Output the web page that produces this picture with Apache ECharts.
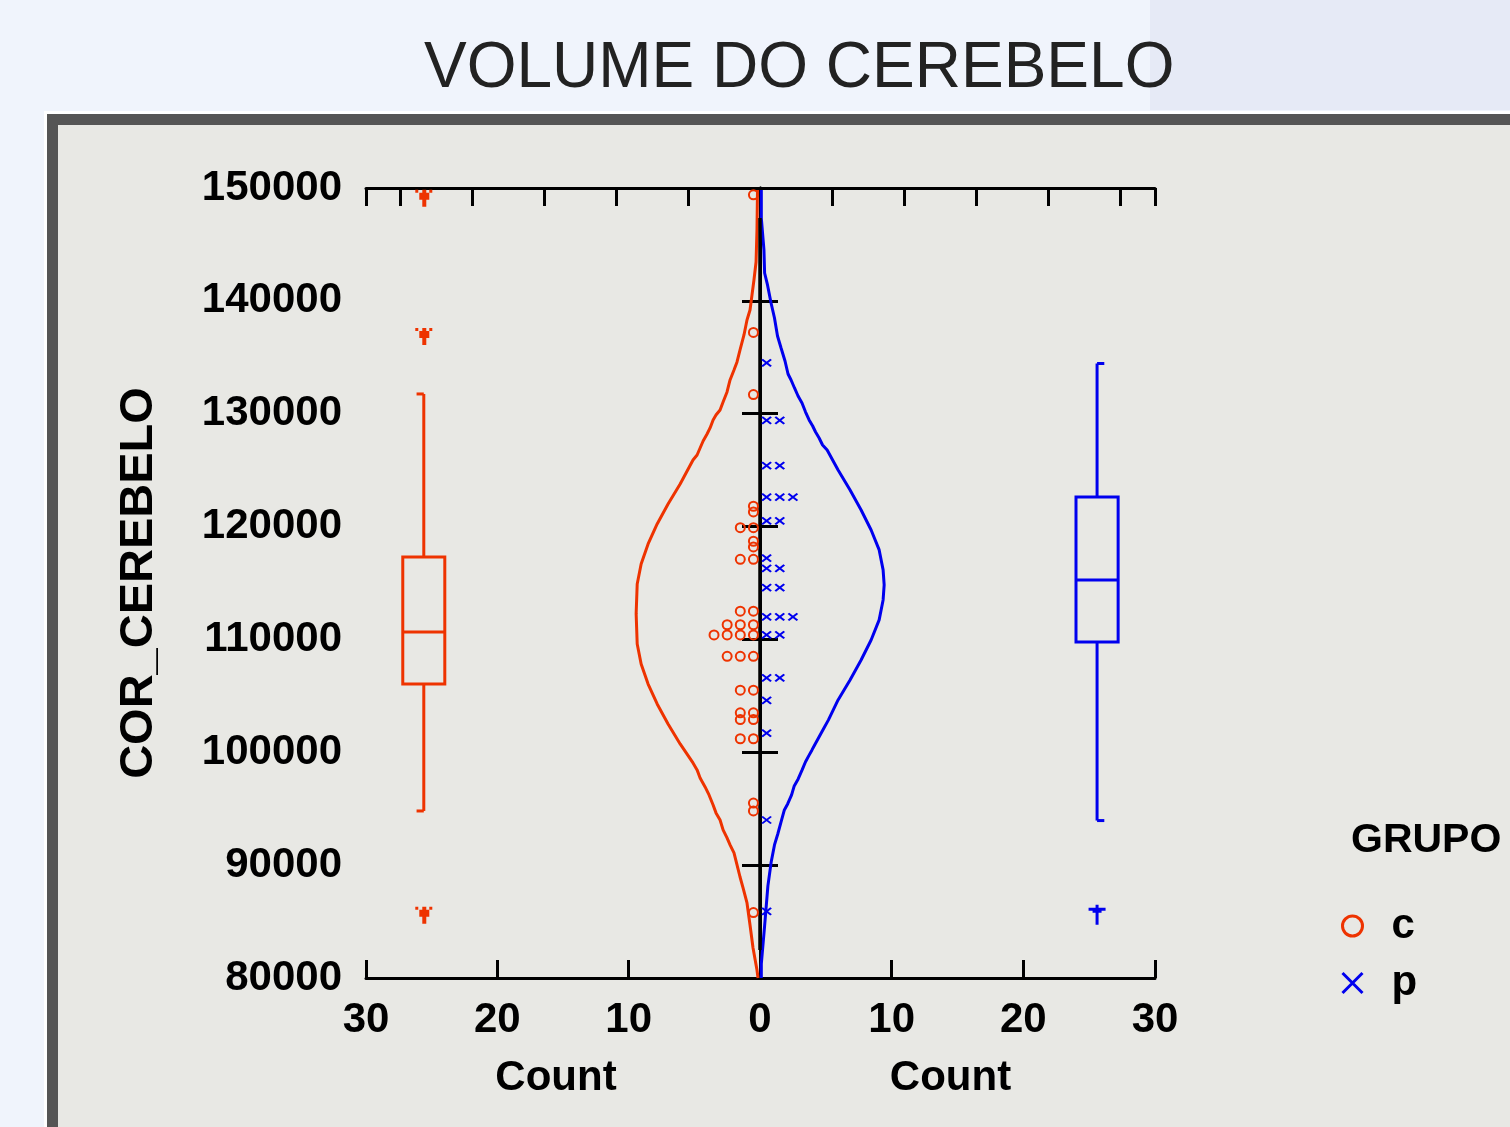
<!DOCTYPE html>
<html>
<head>
<meta charset="utf-8">
<script src="https://cdn.jsdelivr.net/npm/echarts@6/dist/echarts.min.js"></script>
<style>
html,body{margin:0;padding:0;background:#f0f4fc;}
#chart{width:1510px;height:1127px;}
</style>
</head>
<body>
<div id="chart"></div>
<script>
// ---------------- data ----------------
const yTicks = [80000, 90000, 100000, 110000, 120000, 130000, 140000, 150000];
const countTicks = [0, 10, 20, 30];
const groups = ['c', 'p'];

// individual observations (dot plot), group c
const cDots = [149400, 137200, 131700, 121800, 121300, 119900, 119900, 118700, 118200,
  117100, 117100, 112500, 112500, 111300, 111300, 111300, 110400, 110400, 110400, 110400,
  108500, 108500, 108500, 105500, 105500, 103500, 103500, 102900, 102900, 101200, 101200,
  95500, 94800, 85800];
// individual observations (dot plot), group p
const pDots = [134500, 129400, 129400, 125400, 125400, 122600, 122600, 122600, 120500, 120500,
  117200, 116300, 116300, 114600, 114600, 112000, 112000, 112000, 110400, 110400,
  106600, 106600, 104600, 101700, 94000, 85900];

// density curves: values and counts
const cCurveValue = [149820, 146280, 143440, 141850, 140520, 139190, 138300, 136980, 135650, 134590,
  133870, 132990, 131930, 131040, 130330, 129890, 129450, 128740, 128200, 127580, 126960, 126340,
  125900, 123770, 122000, 120230, 118460, 116690, 114910, 112260, 109600, 107830, 106050, 104280,
  102510, 100740, 99060, 98440, 97730, 96930, 96220, 95330, 94630, 94000, 93120, 92410, 91790,
  91080, 90020, 88950, 87980, 86650, 84700, 82660, 80710, 80000];
const cCurveCount = [0.19, 0.23, 0.30, 0.46, 0.61, 0.76, 0.99, 1.22, 1.52, 1.75,
  1.98, 2.28, 2.51, 2.81, 3.04, 3.35, 3.57, 3.80, 4.03, 4.33, 4.56, 4.79,
  5.10, 6.08, 7.00, 7.83, 8.52, 9.05, 9.35, 9.43, 9.35, 9.05, 8.52, 7.83,
  7.00, 6.08, 5.10, 4.79, 4.56, 4.18, 3.88, 3.57, 3.35, 3.04, 2.81, 2.51, 2.28,
  1.98, 1.75, 1.52, 1.29, 0.99, 0.76, 0.53, 0.23, 0.15];

const pCurveValue = [149820, 147340, 144510, 142470, 141410, 139810, 138480, 136890, 135820, 134670,
  133520, 132990, 132280, 131570, 130950, 130150, 129450, 128910, 128380, 127850, 127230, 126790,
  125020, 123240, 121470, 119700, 117930, 116160, 114830, 113500, 111730, 109950, 108180, 106410,
  104640, 102870, 102240, 101710, 101180, 100650, 100210, 99680, 99140, 98440, 97640, 97020,
  96220, 95420, 94890, 93830, 92760, 91790, 90280, 88160, 84610, 81250, 80000];
const pCurveCount = [0.10, 0.10, 0.30, 0.35, 0.57, 0.84, 1.10, 1.33, 1.60, 1.90,
  2.13, 2.36, 2.62, 2.89, 3.19, 3.46, 3.73, 4.00, 4.22, 4.49, 4.75, 5.10,
  5.93, 6.84, 7.68, 8.44, 9.05, 9.35, 9.43, 9.35, 9.05, 8.44, 7.68, 6.84,
  5.93, 5.20, 4.90, 4.65, 4.40, 4.15, 3.95, 3.70, 3.45, 3.20, 2.90, 2.60,
  2.40, 2.10, 1.85, 1.60, 1.35, 1.10, 0.85, 0.60, 0.35, 0.10, 0.10];

// box plots: [lower whisker, Q1, median, Q3, upper whisker]
const cBox = [94800, 106050, 110660, 117310, 131750];
const pBox = [93950, 109780, 115270, 122620, 134450];
const cOutliers = [149100, 136850, 85550];
const pOutliers = [85600];

// extent of the central zero line
const centerLine = [147340, 82490];

// ---------------- styling ----------------
const RED = '#ee3300';
const BLUE = '#0000ee';
const FONT = "'Liberation Sans', Arial, sans-serif";
const BOX_POS = 25.6;     // count position of box plots
const BOX_HALF = 1.6;     // half width of box (count units)
const CAP = 0.55;         // whisker cap length (count units)
const XPATH = 'path://M0,0L10,10M10,0L0,10';
const TRIDENT = 'path://M0,0H3V3H0Z M14,0H17V3H14Z M7,0H11V3H7Z M4,3H14V10H11V17H7V10H4Z';
const CROSS = 'path://M7,0H10V3H17V6H13V8H10V20H7V8H4V6H0V3H7Z';

function stackDots(values) {
  const seen = {};
  return values.map(v => {
    seen[v] = (seen[v] || 0) + 1;
    return [seen[v] - 0.5, v];
  });
}
function curve(counts, values) {
  return values.map((v, i) => [counts[i], v]);
}

function boxRenderer(color) {
  return function (params, api) {
    const pos = api.value(0);
    const lo = api.value(1), q1 = api.value(2), med = api.value(3), q3 = api.value(4), hi = api.value(5);
    const a = api.coord([pos - BOX_HALF, q3]);
    const b = api.coord([pos + BOX_HALF, q1]);
    const x0 = Math.min(a[0], b[0]), x1 = Math.max(a[0], b[0]);
    const yq3 = a[1], yq1 = b[1];
    const cx = api.coord([pos, med])[0];
    const ym = api.coord([pos, med])[1];
    const yhi = api.coord([pos, hi])[1];
    const ylo = api.coord([pos, lo])[1];
    const capX = api.coord([pos + CAP, hi])[0];
    const st = { stroke: color, lineWidth: 3, fill: null };
    return {
      type: 'group',
      children: [
        { type: 'rect', shape: { x: x0, y: yq3, width: x1 - x0, height: yq1 - yq3 }, style: st },
        { type: 'line', shape: { x1: x0, y1: ym, x2: x1, y2: ym }, style: st },
        { type: 'line', shape: { x1: cx, y1: yq3, x2: cx, y2: yhi }, style: st },
        { type: 'line', shape: { x1: cx, y1: yq1, x2: cx, y2: ylo }, style: st },
        { type: 'line', shape: { x1: cx, y1: yhi, x2: capX, y2: yhi }, style: st },
        { type: 'line', shape: { x1: cx, y1: ylo, x2: capX, y2: ylo }, style: st }
      ]
    };
  };
}

const chart = echarts.init(document.getElementById('chart'), null, { renderer: 'canvas' });

const tickStyle = { show: true, inside: true, length: 18, lineStyle: { color: '#000', width: 3 } };
const labelBold = { fontFamily: FONT, fontWeight: 'bold', fontSize: 42, color: '#000' };

function countAxis(gridIndex, inverse, pos, isTop) {
  const ax = {
    type: 'value', gridIndex: gridIndex, position: pos, inverse: inverse,
    min: 0, max: 30,
    axisLine: { show: true, lineStyle: { color: '#000', width: 3 } },
    axisTick: tickStyle, splitLine: { show: false }
  };
  if (isTop) {
    ax.interval = 5.475;
    ax.axisLabel = { show: false };
  } else {
    ax.interval = 10;
    ax.axisLabel = Object.assign({ margin: 21, showMinLabel: !inverse ? false : true,
      formatter: v => String(Math.abs(v)) }, labelBold);
    ax.name = 'Count';
    ax.nameLocation = 'middle';
    ax.nameGap = 79;
    ax.nameTextStyle = Object.assign({}, labelBold, { padding: [0, 14, 0, 0] });
  }
  return ax;
}
function valueAxis(gridIndex, pos, opts) {
  return Object.assign({
    type: 'value', gridIndex: gridIndex, position: pos,
    min: yTicks[0], max: yTicks[yTicks.length - 1], interval: yTicks[1] - yTicks[0],
    axisLine: { show: true, lineStyle: { color: '#000', width: 3 } },
    axisTick: tickStyle, splitLine: { show: false },
    axisLabel: { show: false }
  }, opts || {});
}

const option = {
  animation: false,
  backgroundColor: '#f0f4fc',
  graphic: {
    z: -10,
    elements: [
      { type: 'rect', silent: true, shape: { x: 1150, y: 0, width: 360, height: 110 }, style: { fill: '#e6eaf6' } },
      { type: 'rect', silent: true, shape: { x: 44, y: 111, width: 1466, height: 1016 }, style: { fill: '#ffffff' } },
      { type: 'rect', silent: true, shape: { x: 47, y: 114, width: 1463, height: 1013 }, style: { fill: '#555555' } },
      { type: 'rect', silent: true, shape: { x: 58, y: 125, width: 1452, height: 1002 }, style: { fill: '#e8e8e4' } }
    ]
  },
  title: [
    { text: 'VOLUME DO CEREBELO', left: 419, top: 32,
      textStyle: { fontFamily: FONT, fontWeight: 'normal', fontSize: 64, color: '#222', lineHeight: 64 } },
    { text: 'GRUPO', left: 1346, top: 815,
      textStyle: { fontFamily: FONT, fontWeight: 'bold', fontSize: 41, color: '#000', lineHeight: 42 } }
  ],
  legend: {
    orient: 'vertical', left: 1336, top: 900,
    itemWidth: 24, itemHeight: 20, itemGap: 15,
    textStyle: { fontFamily: FONT, fontWeight: 'bold', fontSize: 42, color: '#000', lineHeight: 42, padding: [0, 0, 0, 22] },
    data: [
      { name: groups[0], icon: 'circle', itemStyle: { color: 'transparent', borderColor: RED, borderWidth: 3 } },
      { name: groups[1], icon: XPATH, itemStyle: { color: 'transparent', borderColor: BLUE, borderWidth: 3 } }
    ]
  },
  grid: [
    { left: 366, top: 188, width: 394, height: 790 },
    { left: 760, top: 188, width: 395, height: 790 }
  ],
  xAxis: [
    countAxis(0, true, 'bottom', false),
    countAxis(1, false, 'bottom', false),
    countAxis(0, true, 'top', true),
    countAxis(1, false, 'top', true)
  ],
  yAxis: [
    valueAxis(0, 'left', {
      axisLabel: Object.assign({ show: true, margin: 24, formatter: v => String(v) }, labelBold),
      name: 'COR_CEREBELO', nameLocation: 'middle', nameGap: 203, nameRotate: 90,
      nameTextStyle: Object.assign({}, labelBold, { fontSize: 47 })
    }),
    valueAxis(0, 'right', { axisLine: { show: false } }),
    valueAxis(1, 'left', { axisLine: { show: false } }),
    valueAxis(1, 'right', {})
  ],
  series: [
    { type: 'line', name: 'cCurve', xAxisIndex: 0, yAxisIndex: 0, data: curve(cCurveCount, cCurveValue),
      showSymbol: false, symbol: 'none', lineStyle: { color: RED, width: 3 }, clip: false, z: 3 },
    { type: 'line', name: 'pCurve', xAxisIndex: 1, yAxisIndex: 2, data: curve(pCurveCount, pCurveValue),
      showSymbol: false, symbol: 'none', lineStyle: { color: BLUE, width: 3 }, clip: false, z: 3 },
    { type: 'line', name: 'zero', xAxisIndex: 0, yAxisIndex: 0, data: centerLine.map(v => [0, v]),
      showSymbol: false, symbol: 'none', lineStyle: { color: '#000', width: 3.5 }, clip: false, z: 4 },
    { type: 'scatter', name: groups[0], xAxisIndex: 0, yAxisIndex: 0, data: stackDots(cDots),
      symbol: 'circle', symbolSize: 9, itemStyle: { color: 'transparent', borderColor: RED, borderWidth: 2, opacity: 1 }, z: 5 },
    { type: 'scatter', name: groups[1], xAxisIndex: 1, yAxisIndex: 2, data: stackDots(pDots),
      symbol: XPATH, symbolSize: [9, 7], itemStyle: { color: 'transparent', borderColor: BLUE, borderWidth: 2, opacity: 1 }, z: 5 },
    { type: 'custom', name: 'cBox', xAxisIndex: 0, yAxisIndex: 0, renderItem: boxRenderer(RED),
      data: [[BOX_POS].concat(cBox)], encode: { x: 0, y: [1, 2, 3, 4, 5] }, clip: false, z: 5 },
    { type: 'custom', name: 'pBox', xAxisIndex: 1, yAxisIndex: 2, renderItem: boxRenderer(BLUE),
      data: [[BOX_POS].concat(pBox)], encode: { x: 0, y: [1, 2, 3, 4, 5] }, clip: false, z: 5 },
    { type: 'scatter', name: 'cOut', xAxisIndex: 0, yAxisIndex: 0, data: cOutliers.map(v => [BOX_POS, v]),
      symbol: TRIDENT, symbolSize: [17, 17], itemStyle: { color: RED, opacity: 1 }, z: 6 },
    { type: 'scatter', name: 'pOut', xAxisIndex: 1, yAxisIndex: 2, data: pOutliers.map(v => [BOX_POS, v]),
      symbol: CROSS, symbolSize: [17, 20], itemStyle: { color: BLUE, opacity: 1 }, z: 6 }
  ]
};
chart.setOption(option);
</script>
</body>
</html>
